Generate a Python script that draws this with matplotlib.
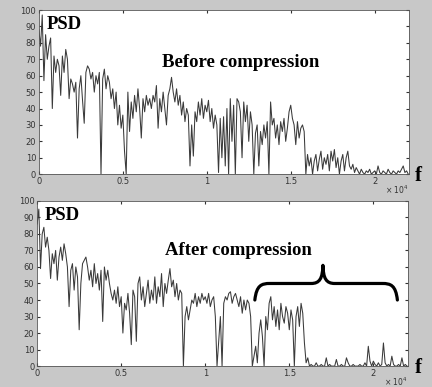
import matplotlib
matplotlib.use("Agg")
import matplotlib.pyplot as plt
import numpy as np
from matplotlib.path import Path
from matplotlib.patches import PathPatch

# frequency axis, 100 Hz steps from 0 to 22000 Hz
freq = np.arange(0, 22001, 100)

psd_before = [
    88, 78, 97, 57, 85, 70, 78, 83, 40, 72,
    62, 70, 66, 48, 72, 62, 76, 70, 46, 58,
    55, 50, 56, 22, 52, 60, 45, 31, 62, 66,
    64, 58, 62, 50, 60, 55, 62, 0, 58, 64,
    52, 60, 56, 46, 52, 40, 50, 30, 42, 28,
    36, 14, 0, 50, 26, 44, 34, 48, 38, 52,
    40, 22, 46, 38, 48, 42, 46, 40, 48, 44,
    54, 28, 46, 38, 50, 40, 30, 48, 52, 59,
    50, 44, 52, 42, 48, 36, 44, 32, 40, 36,
    5, 30, 11, 38, 32, 44, 36, 46, 34, 42,
    38, 45, 32, 40, 28, 36, 30, 1, 34, 10,
    35, 5, 40, 0, 46, 20, 42, 0, 46, 44,
    38, 10, 44, 32, 42, 20, 38, 30, 0, 25,
    30, 5, 26, 18, 30, 22, 32, 0, 44, 30,
    34, 22, 30, 18, 32, 26, 34, 20, 28, 38,
    42, 34, 30, 18, 32, 22, 28, 30, 26, 0,
    12, 5, 10, 0, 8, 12, 2, 9, 14, 3,
    10, 6, 12, 2, 14, 8, 15, 4, 10, 0,
    8, 12, 2, 10, 14, 5, 3, 6, 1, 4,
    2, 0, 3, 1, 0, 2, 1, 3, 0, 1,
    2, 0, 5, 1, 0, 2, 1, 0, 3, 1,
    0, 2, 1, 0, 2, 1, 3, 5, 1, 2, 0,
]

psd_after = [
    86, 95, 59, 80, 84, 72, 78, 70, 53, 68,
    62, 70, 52, 66, 72, 64, 74, 68, 60, 36,
    58, 62, 46, 60, 54, 22, 50, 62, 64, 66,
    60, 52, 58, 48, 62, 50, 56, 46, 58, 27,
    60, 52, 58, 50, 44, 40, 46, 38, 48, 36,
    42, 20, 38, 34, 44, 32, 13, 46, 42, 15,
    50, 54, 40, 48, 36, 44, 52, 38, 46, 40,
    54, 38, 48, 42, 56, 36, 50, 44, 52, 59,
    48, 52, 42, 50, 40, 46, 44, 0, 30, 36,
    28, 34, 40, 38, 44, 36, 42, 38, 44, 40,
    42, 38, 44, 36, 40, 42, 30, 0, 15, 30,
    0, 38, 42, 40, 44, 45, 38, 42, 44, 40,
    36, 42, 32, 40, 34, 40, 38, 30, 0, 6,
    12, 2, 20, 28, 18, 0, 30, 22, 38, 42,
    28, 36, 24, 34, 22, 38, 30, 26, 36, 32,
    22, 34, 28, 0, 30, 36, 24, 38, 32, 14,
    2, 5, 0, 1, 0, 0, 2, 0, 0, 1,
    0, 0, 5, 0, 1, 0, 0, 0, 4, 0,
    0, 1, 0, 0, 5, 2, 0, 0, 1, 0,
    0, 0, 1, 0, 0, 2, 0, 12, 3, 0,
    3, 1, 0, 2, 0, 1, 14, 2, 0, 1,
    0, 6, 1, 0, 0, 1, 0, 5, 0, 1, 0,
]

xtick_pos = [0, 5000, 10000, 15000, 20000]
xtick_labels = ["0", "0.5", "1", "1.5", "2"]
ytick_pos = [0, 10, 20, 30, 40, 50, 60, 70, 80, 90, 100]

# brace over the band that was kept after compression
brace_left, brace_right, brace_center = 12950, 21430, 17000
brace_low, brace_mid, brace_tip = 40, 50, 61

serif = "Liberation Serif"
bg = "#c8c8c8"
line_color = "#3a3a3a"

fig = plt.figure(figsize=(4.32, 3.87), dpi=100, facecolor=bg)
ax1 = fig.add_axes([0.090, 0.550, 0.857, 0.424])
ax2 = fig.add_axes([0.086, 0.054, 0.858, 0.427])

for ax, psd, title in [(ax1, psd_before, "Before compression"),
                       (ax2, psd_after, "After compression")]:
    ax.plot(freq, psd, color=line_color, linewidth=0.75)
    ax.set_xlim(0, 22050)
    ax.set_ylim(0, 100)
    ax.set_xticks(xtick_pos)
    ax.set_xticklabels(xtick_labels)
    ax.set_yticks(ytick_pos)
    ax.tick_params(direction="in", top=True, right=True, length=2.5,
                   labelsize=6, labelcolor="#333333", color="#333333", pad=2)
    for s in ax.spines.values():
        s.set_color("#555555")
        s.set_linewidth(0.6)
    ax.text(1.0, -0.06, r"$\times$ 10$^4$", transform=ax.transAxes,
            ha="right", va="top", fontsize=5.5, color="#333333")
    ax.text(450, 91, "PSD", fontsize=13.5, fontweight="bold", family=serif,
            va="center", ha="left")
    ax.text(12000, 68 if ax is ax1 else 70, title, fontsize=13.5,
            fontweight="bold", family=serif, ha="center", va="center")

fig.text(0.968, 0.545, "f", fontsize=15, fontweight="bold", family=serif,
         ha="center", va="center")
fig.text(0.968, 0.048, "f", fontsize=15, fontweight="bold", family=serif,
         ha="center", va="center")

L, R, C = brace_left, brace_right, brace_center
verts = [
    (L, brace_low),
    (L + 100, brace_mid - 1), (L + 400, brace_mid), (L + 900, brace_mid),
    (C - 700, brace_mid),
    (C - 200, brace_mid), (C - 20, brace_mid + 3), (C, brace_tip),
    (C + 20, brace_mid + 3), (C + 200, brace_mid), (C + 700, brace_mid),
    (R - 900, brace_mid),
    (R - 400, brace_mid), (R - 100, brace_mid - 1), (R, brace_low),
]
codes = [Path.MOVETO,
         Path.CURVE4, Path.CURVE4, Path.CURVE4,
         Path.LINETO,
         Path.CURVE4, Path.CURVE4, Path.CURVE4,
         Path.CURVE4, Path.CURVE4, Path.CURVE4,
         Path.LINETO,
         Path.CURVE4, Path.CURVE4, Path.CURVE4]
ax2.add_patch(PathPatch(Path(verts, codes), fill=False, edgecolor="black",
                        linewidth=2.3, capstyle="round", joinstyle="round"))

fig.savefig("out.png", dpi=100, facecolor=bg)
